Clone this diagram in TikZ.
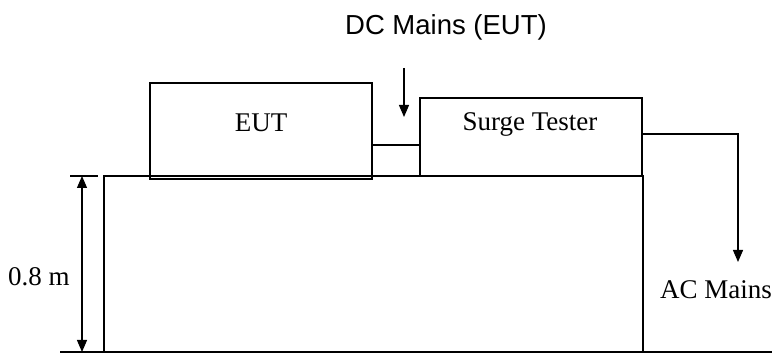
\documentclass[tikz,border=0pt]{standalone}
\usepackage{fontspec}
\setmainfont{Liberation Serif}
\newfontfamily\arialf{Liberation Sans}
\usetikzlibrary{arrows.meta}
\begin{document}
\begin{tikzpicture}[x=1pt,y=-1pt,
  box/.style={draw,line width=1.3pt,inner sep=0pt,font=\fontsize{26.5}{30}\selectfont},
  conn/.style={line width=1.3pt},
  arr/.style={line width=1.3pt,-{Triangle[length=12pt,width=10pt]}},
  lbl/.style={inner sep=0pt,font=\fontsize{27}{30}\selectfont}]
\useasboundingbox (0,0) rectangle (774,355);
\fill[white] (0,0) rectangle (774,355);
% ground and table
\coordinate (gl) at (60,352);
\coordinate (gr) at (772,352);
\coordinate (tl) at (104,176);
\coordinate (tr) at (643,176);
\draw[line width=2.5pt] (gl) -- (gr);
\draw[conn] (tl |- gl) -- (tl) -- (tr) -- (tr |- gl);
% boxes
\node[box,minimum width=222pt,minimum height=96pt] (eut) at (261,131) {};
\node[lbl] (euttext) at (261,123) {EUT};
\node[box,minimum width=222pt,minimum height=78pt] (surge) at (531,137) {};
\node[lbl] (surgetext) at (530,124) {Surge Tester};
% link EUT - surge
\coordinate (lk) at (0,145);
\draw[conn] (eut.east |- lk) -- (surge.west |- lk);
% DC mains
\node[lbl,font=\arialf\fontsize{27.5}{30}\selectfont] (dc) at (446,27) {DC Mains (EUT)};
\coordinate (dcs) at (404,68);
\coordinate (dce) at (404,117);
\draw[arr] (dcs) -- (dce);
% AC mains
\coordinate (acy) at (0,134);
\coordinate (acc) at (738,134);
\coordinate (ace) at (738,262);
\draw[arr] (surge.east |- acy) -- (acc) -- (ace);
\node[lbl] (ac) at (716,290) {AC Mains};
% dimension
\coordinate (dt1) at (70,176);
\coordinate (dt2) at (98,176);
\coordinate (dtop) at (82,176);
\coordinate (dbot) at (82,352);
\draw[conn] (dt1) -- (dt2);
\draw[line width=1.3pt,{Triangle[length=12pt,width=10pt]}-{Triangle[length=12pt,width=10pt]}] (dtop) -- (dbot);
\node[lbl] (h) at (39,277) {0.8 m};
\end{tikzpicture}
\end{document}
